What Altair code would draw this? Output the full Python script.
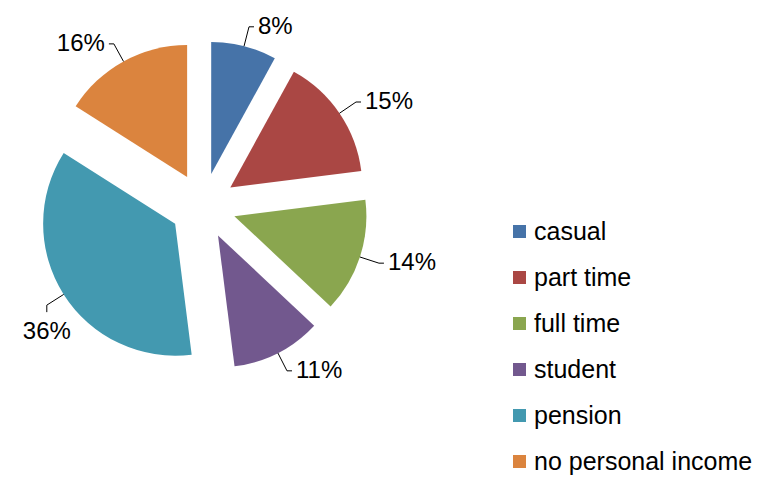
import altair as alt
import pandas as pd

categories = ["casual", "part time", "full time", "student", "pension", "no personal income"]
values = [8, 15, 14, 11, 36, 16]
colors = ["#4673A8", "#AA4744", "#8AA64F", "#72588E", "#4399B0", "#DB843E"]

df = pd.DataFrame({"category": categories, "value": values, "idx": list(range(len(categories)))})

W, H = 752, 468
CX, CY = 195, 198       # pie centre inside the view
EXPLODE = 33            # slice explosion distance
R = 132                 # pie radius
RA = 152                # leader line anchor radius
FONT = "Liberation Sans"

xs = alt.Scale(domain=[-CX, W - CX])
ys = alt.Scale(domain=[-(H - CY), CY])

base = (
    alt.Chart(df)
    .transform_window(cum="sum(value)", sort=[alt.SortField("idx")], frame=[None, 0])
    .transform_joinaggregate(total="sum(value)")
    .transform_calculate(
        a0="2*PI*(datum.cum - datum.value)/datum.total",
        a1="2*PI*datum.cum/datum.total",
        label="datum.value + '%'",
    )
    .transform_calculate(mid="(datum.a0 + datum.a1)/2")
    .transform_calculate(
        ox=f"{EXPLODE}*sin(datum.mid)",
        oy=f"{EXPLODE}*cos(datum.mid)",
        side="sin(datum.mid) >= 0 ? 1 : -1",
        below="datum.mid > PI && datum.mid < 1.5*PI",
    )
    .transform_calculate(
        exx=f"datum.ox + {R}*sin(datum.mid)",
        eyy=f"datum.oy + {R}*cos(datum.mid)",
        ax=f"datum.ox + {RA}*sin(datum.mid)",
        ay=f"datum.oy + {RA}*cos(datum.mid)",
    )
    .transform_calculate(
        bx="datum.below ? datum.ax : datum.ax + datum.side*5",
        by="datum.below ? datum.ay - 7 : datum.ay",
        tx="datum.below ? datum.ax : datum.ax + datum.side*9",
        ty="datum.below ? datum.ay - 27 : datum.ay",
        kind="datum.below ? 'c' : (datum.side > 0 ? 'l' : 'r')",
    )
)

arcs = base.mark_arc(radius=R).encode(
    x=alt.X("ox:Q", scale=xs, axis=None),
    y=alt.Y("oy:Q", scale=ys, axis=None),
    theta=alt.Theta("a0:Q", scale=None),
    theta2="a1:Q",
    color=alt.Color(
        "category:N",
        scale=alt.Scale(domain=categories, range=colors),
        legend=alt.Legend(
            title=None,
            orient="none",
            legendX=499,
            legendY=211,
            symbolType="square",
            symbolSize=169,
            symbolStrokeWidth=0,
            labelFont=FONT,
            labelFontSize=25,
            labelColor="#000000",
            labelOffset=2,
            labelLimit=0,
            rowPadding=20,
        ),
    ),
)

leader = base.mark_rule(color="#000000", strokeWidth=1).encode(
    x=alt.X("exx:Q", scale=xs, axis=None),
    y=alt.Y("eyy:Q", scale=ys, axis=None),
    x2="ax:Q",
    y2="ay:Q",
)

elbow = base.mark_rule(color="#000000", strokeWidth=1).encode(
    x=alt.X("ax:Q", scale=xs, axis=None),
    y=alt.Y("ay:Q", scale=ys, axis=None),
    x2="bx:Q",
    y2="by:Q",
)


def text_layer(kind, align):
    return (
        base.transform_filter(f"datum.kind == '{kind}'")
        .mark_text(align=align, baseline="middle", font=FONT, fontSize=24, color="#000000")
        .encode(
            x=alt.X("tx:Q", scale=xs, axis=None),
            y=alt.Y("ty:Q", scale=ys, axis=None),
            text="label:N",
        )
    )


chart = (
    alt.layer(arcs, leader, elbow, text_layer("l", "left"), text_layer("r", "right"), text_layer("c", "center"))
    .properties(width=W, height=H, padding=0, autosize=alt.AutoSizeParams(type="none"))
    .configure_view(stroke=None)
)

chart.save("out.html", embed_options={"renderer": "svg", "actions": False})
